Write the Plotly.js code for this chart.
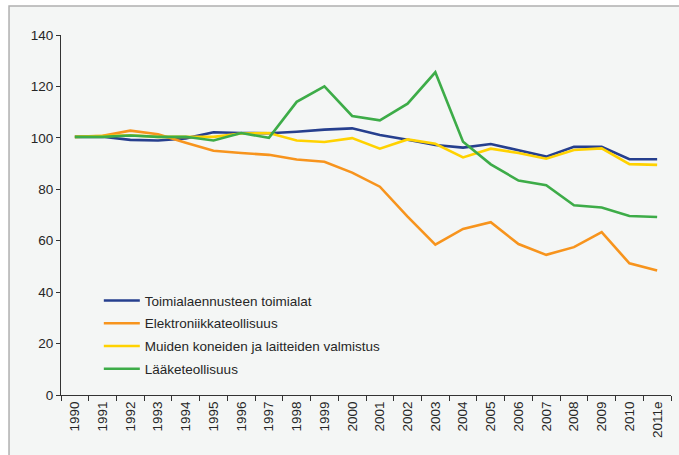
<!DOCTYPE html>
<html>
<head>
<meta charset="utf-8">
<script src="https://cdn.plot.ly/plotly-3.0.1.min.js"></script>
<style>
html,body{margin:0;padding:0;background:#ffffff;}
#chart{width:679px;height:455px;}
</style>
</head>
<body>
<div id="chart"></div>
<script>
var years = ["1990","1991","1992","1993","1994","1995","1996","1997","1998","1999","2000","2001","2002","2003","2004","2005","2006","2007","2008","2009","2010","2011e"];
var seriesNames = ["Toimialaennusteen toimialat","Elektroniikkateollisuus","Muiden koneiden ja laitteiden valmistus","Lääketeollisuus"];
var toimialat = [100.4,100.4,99.2,99.0,99.8,102.2,101.9,101.8,102.4,103.2,103.7,101.1,99.3,97.2,96.2,97.6,95.2,92.7,96.5,96.5,91.7,91.7];
var elektroniikka = [100.4,100.8,102.8,101.4,98.1,95.0,94.1,93.4,91.6,90.7,86.5,81.0,69.4,58.5,64.6,67.2,58.7,54.5,57.5,63.3,51.2,48.4];
var muutKoneet = [100.4,100.8,101.0,100.4,100.4,100.4,101.7,101.9,99.0,98.4,99.9,95.8,99.4,97.7,92.4,95.8,94.1,91.9,95.3,95.9,89.8,89.5];
var laake = [100.4,100.4,100.9,100.4,100.4,99.0,101.9,100.0,114.0,120.0,108.5,106.8,113.3,125.5,98.5,89.7,83.4,81.6,73.8,72.9,69.6,69.2];
var colors = ["#263f8e","#f7941d","#ffd200","#3dac48"];
var values = [toimialat, elektroniikka, muutKoneet, laake];

var idx = years.map(function(_, i){ return i; });
var bounds = years.map(function(_, i){ return i - 0.5; }).concat([years.length - 0.5]);

var traces = values.map(function(v, i){
  return {
    x: idx, y: v, type: "scatter", mode: "lines",
    name: seriesNames[i], legendgroup: "g"+i,
    line: {color: colors[i], width: 2.6}
  };
});

var layout = {
  width: 679, height: 455,
  margin: {l: 61, r: 8, t: 35, b: 60},
  paper_bgcolor: "#ffffff",
  plot_bgcolor: "rgba(0,0,0,0)",
  font: {family: "Liberation Sans, Arial, sans-serif", size: 13.5, color: "#262626"},
  showlegend: true,
  legend: {
    x: 0.062, xanchor: "left", y: 0.305, yanchor: "top",
    bgcolor: "rgba(0,0,0,0)", tracegroupgap: 2.2, itemwidth: 36,
    font: {size: 13.5, color: "#262626"}
  },
  xaxis: {
    type: "linear", range: [-0.5, years.length - 0.5],
    tickmode: "array", tickvals: idx, ticktext: years, ticks: "",
    minor: {tickmode: "array", tickvals: bounds, ticks: "outside", ticklen: 5, tickcolor: "#333", showgrid: false},
    showline: true, linecolor: "#333", linewidth: 1,
    showgrid: false, zeroline: false, tickangle: -90,
    tickfont: {size: 13.5, color: "#262626"}
  },
  yaxis: {
    range: [0, 140], dtick: 20, tick0: 0, ticks: "outside", ticklen: 4,
    tickcolor: "#333", showline: true, linecolor: "#333", linewidth: 1,
    showgrid: false, zeroline: false,
    tickfont: {size: 13.5, color: "#262626"}
  },
  shapes: [{
    type: "rect", xref: "paper", yref: "paper", layer: "below",
    x0: -0.0852, x1: 1.5, y0: -0.5, y1: 1.0806,
    fillcolor: "#f4f6f5", line: {color: "#b0b0b0", width: 1.5}
  }]
};

Plotly.newPlot("chart", traces, layout, {displayModeBar: false, staticPlot: true});
</script>
</body>
</html>
